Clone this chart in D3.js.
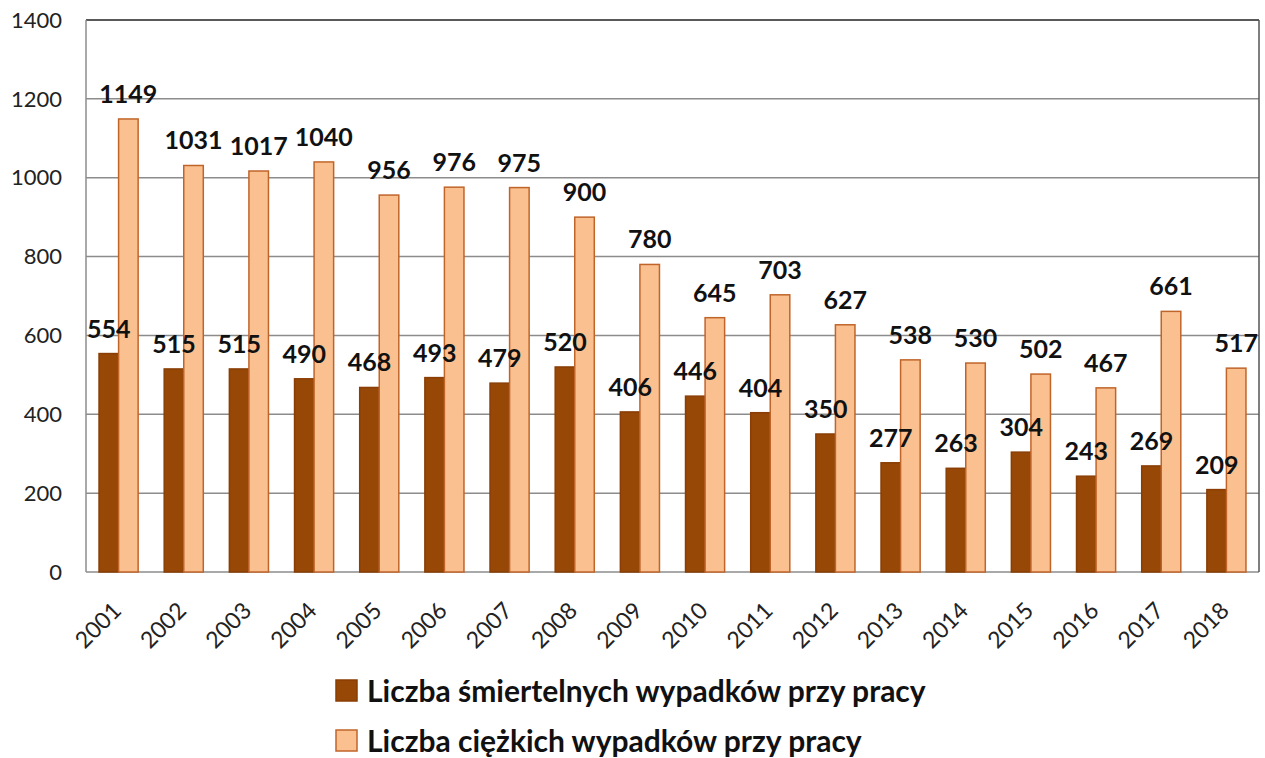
<!DOCTYPE html>
<html>
<head>
<meta charset="utf-8">
<script src="https://cdn.jsdelivr.net/npm/d3@7"></script>
<style>
  body { margin: 0; background: #fff; }
  svg { display: block; font-family: Lato, "Open Sans", sans-serif; }
</style>
</head>
<body>
<div id="chart"></div>
<script>
const years = ["2001","2002","2003","2004","2005","2006","2007","2008","2009","2010","2011","2012","2013","2014","2015","2016","2017","2018"];
const fatal = [554,515,515,490,468,493,479,520,406,446,404,350,277,263,304,243,269,209];
const serious = [1149,1031,1017,1040,956,976,975,900,780,645,703,627,538,530,502,467,661,517];
const yTicks = [0,200,400,600,800,1000,1200,1400];
const seriesNames = ["Liczba śmiertelnych wypadków przy pracy", "Liczba ciężkich wypadków przy pracy"];

function draw() {
  const width = 1265, height = 758;
  const margin = { top: 20, right: 6, bottom: 186, left: 86 };
  const colors = ["#974706", "#fac090"];

  const svg = d3.select("#chart").append("svg")
      .attr("width", width)
      .attr("height", height);

  const x = d3.scaleBand()
      .domain(years)
      .range([margin.left, width - margin.right])
      .paddingInner(0.4)
      .paddingOuter(0.2);
  const xSub = d3.scaleBand()
      .domain([0, 1])
      .range([0, x.bandwidth()]);
  const y = d3.scaleLinear()
      .domain([0, 1400])
      .range([height - margin.bottom, margin.top]);

  // gridlines
  svg.append("g")
    .selectAll("line")
    .data(yTicks)
    .join("line")
      .attr("x1", margin.left)
      .attr("x2", width - margin.right)
      .attr("y1", d => y(d))
      .attr("y2", d => y(d))
      .attr("stroke", d => d === 1400 ? "#222" : "#8c8c8c")
      .attr("stroke-width", 1.5);

  // frame sides
  svg.append("line")
      .attr("x1", margin.left).attr("x2", margin.left)
      .attr("y1", y(0)).attr("y2", y(1400))
      .attr("stroke", "#8c8c8c").attr("stroke-width", 1.5);
  svg.append("line")
      .attr("x1", width - margin.right).attr("x2", width - margin.right)
      .attr("y1", y(0)).attr("y2", y(1400))
      .attr("stroke", "#555").attr("stroke-width", 1.5);

  // y axis labels
  svg.append("g")
    .selectAll("text")
    .data(yTicks)
    .join("text")
      .attr("x", margin.left - 24)
      .attr("y", d => y(d))
      .attr("dy", "0.35em")
      .attr("text-anchor", "end")
      .attr("font-size", 22)
      .attr("fill", "#222")
      .text(d => d);

  const rows = years.map((yr, i) => ({ yr, vals: [fatal[i], serious[i]] }));

  const group = svg.append("g")
    .selectAll("g")
    .data(rows)
    .join("g")
      .attr("transform", d => `translate(${x(d.yr)},0)`);

  group.selectAll("rect")
    .data(d => d.vals.map((v, k) => ({ v, k })))
    .join("rect")
      .attr("x", d => xSub(d.k))
      .attr("y", d => y(d.v))
      .attr("width", xSub.bandwidth())
      .attr("height", d => y(0) - y(d.v))
      .attr("fill", d => colors[d.k])
      .attr("stroke", d => d.k === 0 ? "#8a3e05" : "#c0652a")
      .attr("stroke-width", 1.5);

  group.selectAll("text")
    .data(d => d.vals.map((v, k) => ({ v, k })))
    .join("text")
      .attr("x", d => xSub(d.k) + xSub.bandwidth() / 2)
      .attr("y", d => y(d.v) - 16)
      .attr("text-anchor", "middle")
      .attr("font-size", 25)
      .attr("font-weight", "bold")
      .attr("fill", "#111")
      .text(d => d.v);

  // x axis labels
  svg.append("g")
    .selectAll("text")
    .data(years)
    .join("text")
      .attr("transform", d => `translate(${x(d) + x.bandwidth() / 2 + 4},${y(0) + 40}) rotate(-45)`)
      .attr("text-anchor", "end")
      .attr("font-size", 23)
      .attr("fill", "#222")
      .text(d => d);

  // legend
  const legend = svg.append("g")
    .selectAll("g")
    .data(seriesNames)
    .join("g")
      .attr("transform", (d, i) => `translate(336,${691 + i * 50})`);

  legend.append("rect")
      .attr("x", 0)
      .attr("y", -11)
      .attr("width", 21)
      .attr("height", 21)
      .attr("fill", (d, i) => colors[i])
      .attr("stroke", (d, i) => i === 0 ? "#8a3e05" : "#c0652a")
      .attr("stroke-width", 1.5);

  legend.append("text")
      .attr("x", 31)
      .attr("dy", "0.35em")
      .attr("font-size", 30)
      .attr("font-weight", "bold")
      .attr("fill", "#111")
      .text(d => d);
}

draw();
</script>
</body>
</html>
